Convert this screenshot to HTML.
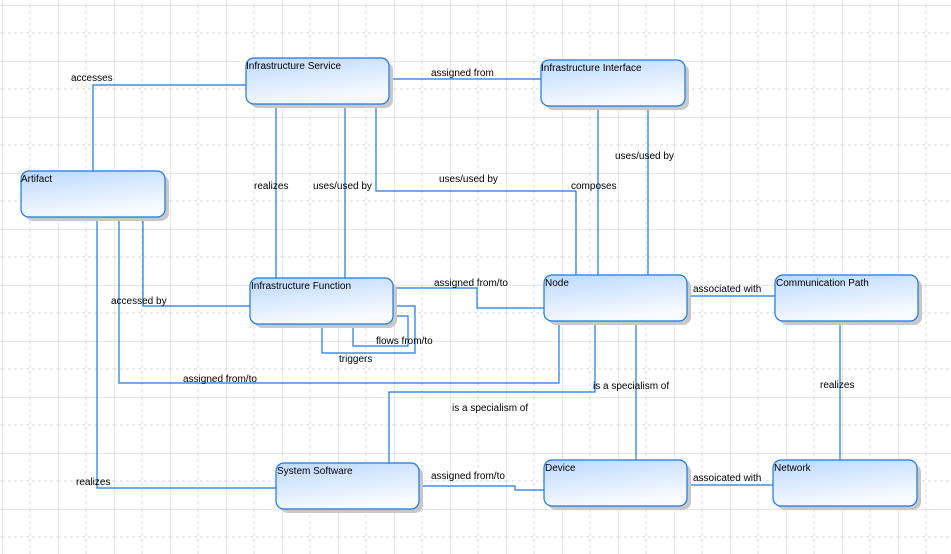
<!DOCTYPE html>
<html><head><meta charset="utf-8"><style>
html,body{margin:0;padding:0;background:#fff}
svg{display:block}
text{font-family:"Liberation Sans",sans-serif;font-size:10px;fill:#000}
</style></head><body>
<svg width="951" height="554" xmlns="http://www.w3.org/2000/svg">
<defs>
<linearGradient id="g" x1="0" y1="0" x2="0.35" y2="1">
<stop offset="0" stop-color="#bcd8ff"/><stop offset="1" stop-color="#f8fbff"/>
</linearGradient>
<pattern id="grid" width="56" height="56" patternUnits="userSpaceOnUse" x="2" y="5">
<line x1="0" y1="0" x2="0" y2="56" stroke="#d2d2d2" stroke-width="1"/>
<line x1="28" y1="0" x2="28" y2="56" stroke="#d8d8d8" stroke-dasharray="3,3"/>
<line x1="0" y1="0" x2="56" y2="0" stroke="#d2d2d2"/>
<line x1="0" y1="28" x2="56" y2="28" stroke="#d8d8d8" stroke-dasharray="3,3"/>
</pattern>
</defs>
<rect width="951" height="554" fill="url(#grid)"/>
<g fill="none" stroke="#1a78e6" stroke-width="1.2">
<polyline points="246,85 93,85 93,171"/>
<polyline points="389,79 541,79"/>
<polyline points="276,104 276,278"/>
<polyline points="345,104 345,278"/>
<polyline points="376,104 376,191 576,191 576,275"/>
<polyline points="598,106 598,275"/>
<polyline points="648,106 648,275"/>
<polyline points="143,217 143,306 250,306"/>
<polyline points="119,217 119,383 559,383 559,321"/>
<polyline points="97,217 97,488 276,488"/>
<polyline points="393,288 477,288 477,308 544,308"/>
<polyline points="393,316 408,316 408,346 353,346 353,324"/>
<polyline points="393,306 415,306 415,353 322,353 322,324"/>
<polyline points="595,321 595,392 389,392 389,463"/>
<polyline points="636,321 636,460"/>
<polyline points="687,296 775,296"/>
<polyline points="840,321 840,460"/>
<polyline points="419,486 515,486 515,490 544,490"/>
<polyline points="687,485 773,485"/>
</g>
<g>
<g transform="translate(246,58)"><rect x="4" y="4" width="143" height="46" rx="8" fill="#c8c8c8"/><rect width="143" height="46" rx="8" fill="url(#g)" stroke="#1a78e6" stroke-width="1.2"/><text x="0" y="11">Infrastructure Service</text></g>
<g transform="translate(541,60)"><rect x="4" y="4" width="144" height="46" rx="8" fill="#c8c8c8"/><rect width="144" height="46" rx="8" fill="url(#g)" stroke="#1a78e6" stroke-width="1.2"/><text x="0" y="11">Infrastructure Interface</text></g>
<g transform="translate(21,171)"><rect x="4" y="4" width="144" height="46" rx="8" fill="#c8c8c8"/><rect width="144" height="46" rx="8" fill="url(#g)" stroke="#1a78e6" stroke-width="1.2"/><text x="0" y="11">Artifact</text></g>
<g transform="translate(250,278)"><rect x="4" y="4" width="143" height="46" rx="8" fill="#c8c8c8"/><rect width="143" height="46" rx="8" fill="url(#g)" stroke="#1a78e6" stroke-width="1.2"/><text x="1" y="11">Infrastructure Function</text></g>
<g transform="translate(544,275)"><rect x="4" y="4" width="143" height="46" rx="8" fill="#c8c8c8"/><rect width="143" height="46" rx="8" fill="url(#g)" stroke="#1a78e6" stroke-width="1.2"/><text x="1" y="11">Node</text></g>
<g transform="translate(775,275)"><rect x="4" y="4" width="143" height="46" rx="8" fill="#c8c8c8"/><rect width="143" height="46" rx="8" fill="url(#g)" stroke="#1a78e6" stroke-width="1.2"/><text x="1" y="11">Communication Path</text></g>
<g transform="translate(276,463)"><rect x="4" y="4" width="143" height="46" rx="8" fill="#c8c8c8"/><rect width="143" height="46" rx="8" fill="url(#g)" stroke="#1a78e6" stroke-width="1.2"/><text x="1" y="11">System Software</text></g>
<g transform="translate(544,460)"><rect x="4" y="4" width="143" height="46" rx="8" fill="#c8c8c8"/><rect width="143" height="46" rx="8" fill="url(#g)" stroke="#1a78e6" stroke-width="1.2"/><text x="1" y="11">Device</text></g>
<g transform="translate(773,460)"><rect x="4" y="4" width="144" height="46" rx="8" fill="#c8c8c8"/><rect width="144" height="46" rx="8" fill="url(#g)" stroke="#1a78e6" stroke-width="1.2"/><text x="1" y="11">Network</text></g>
</g>
<g>
<text x="71" y="81">accesses</text>
<text x="431" y="76">assigned from</text>
<text x="254" y="189">realizes</text>
<text x="313" y="189">uses/used by</text>
<text x="439" y="182">uses/used by</text>
<text x="571" y="189">composes</text>
<text x="615" y="159">uses/used by</text>
<text x="111" y="304">accessed by</text>
<text x="434" y="286">assigned from/to</text>
<text x="376" y="344">flows from/to</text>
<text x="339" y="362">triggers</text>
<text x="183" y="382">assigned from/to</text>
<text x="693" y="292">associated with</text>
<text x="593" y="389">is a specialism of</text>
<text x="452" y="411">is a specialism of</text>
<text x="820" y="388">realizes</text>
<text x="76" y="485">realizes</text>
<text x="431" y="479">assigned from/to</text>
<text x="693" y="481">assoicated with</text>
</g>
</svg>
</body></html>
